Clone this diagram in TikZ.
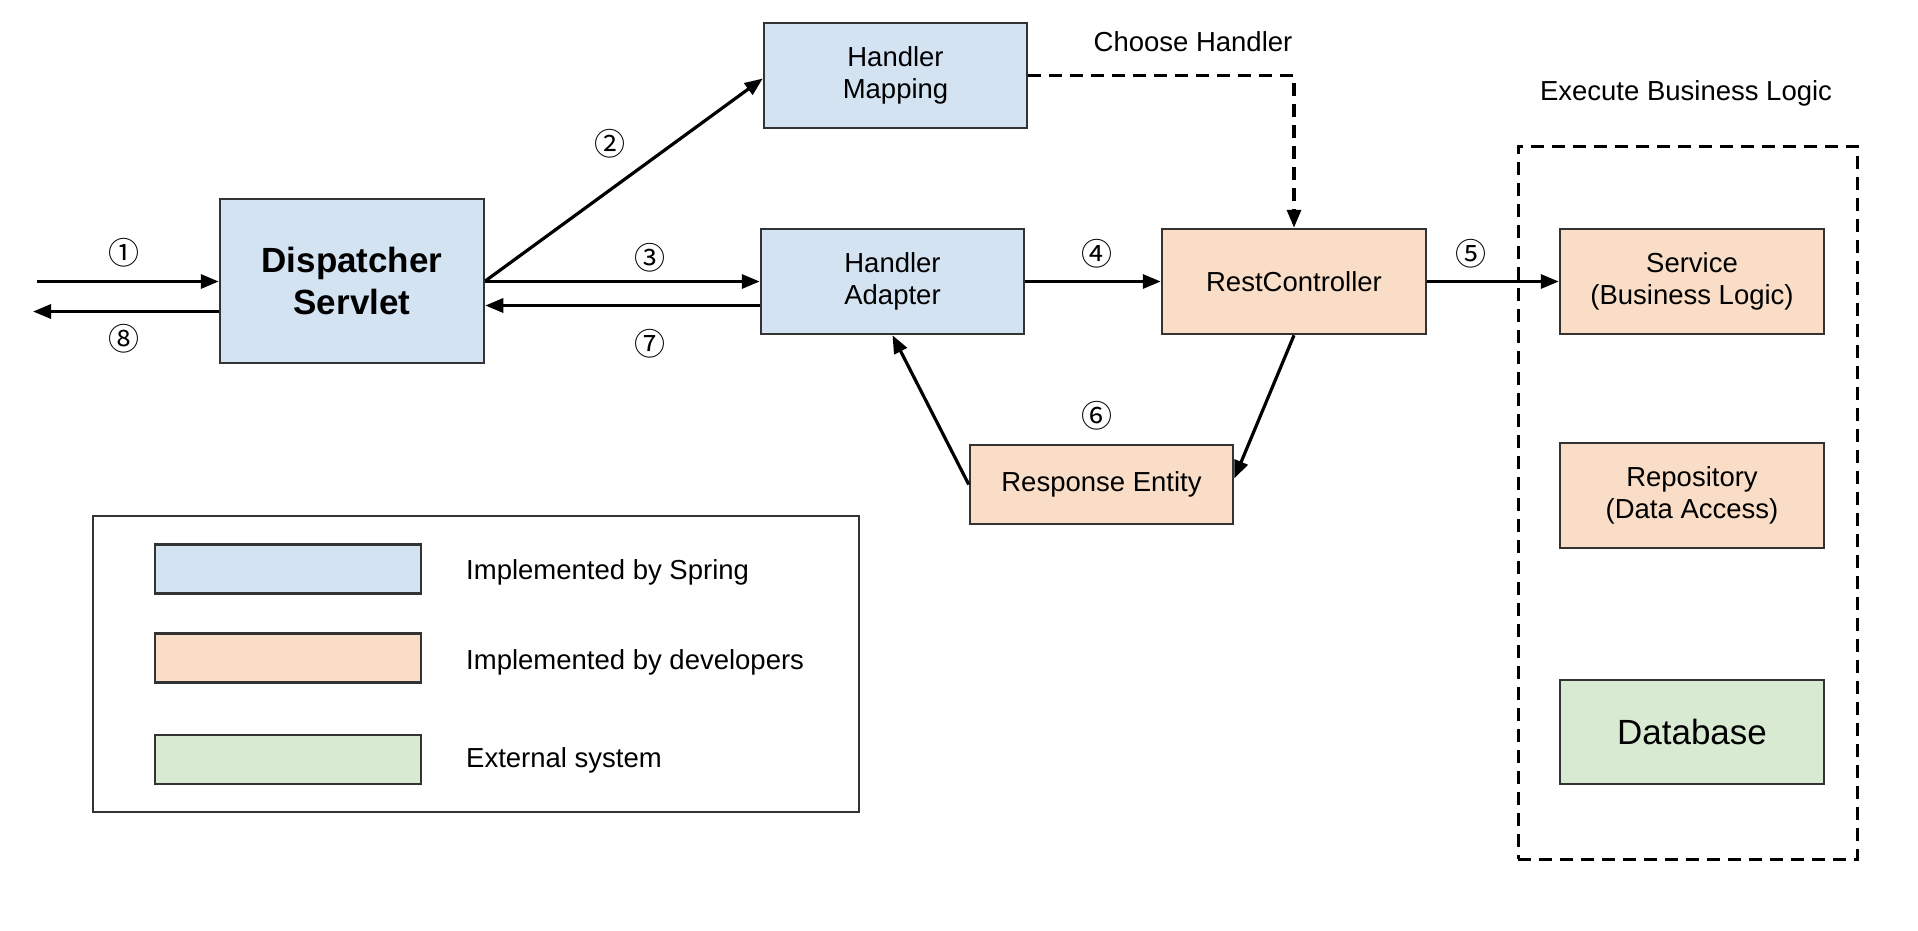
\documentclass[tikz,border=0pt]{standalone}
\usepackage{fontspec}
\setmainfont{Liberation Sans}
\newfontfamily\circfont{Noto Sans CJK JP}
\usetikzlibrary{arrows.meta,calc}

\definecolor{springblue}{HTML}{D4E3F2}
\definecolor{devorange}{HTML}{F9DDC7}
\definecolor{extgreen}{HTML}{D9EAD3}
\definecolor{bordergray}{HTML}{333333}

\begin{document}
\begin{tikzpicture}[x=1pt,y=-1pt,
  box/.style={draw=bordergray, line width=2.5pt, minimum width=263pt, minimum height=105pt, inner sep=0pt, align=center, font=\fontsize{27.5}{32}\selectfont},
  spring/.style={box, fill=springblue},
  dev/.style={box, fill=devorange},
  ext/.style={box, fill=extgreen},
  swatch/.style={draw=bordergray, line width=2.5pt, minimum width=266pt, minimum height=49pt, inner sep=0pt},
  arr/.style={line width=3.2pt, -{Triangle[length=18pt,width=14pt]}},
  dasharr/.style={arr, dash pattern=on 13pt off 8pt},
  num/.style={font=\circfont\fontsize{31}{31}\selectfont, inner sep=0pt},
  lbl/.style={font=\fontsize{27.5}{32}\selectfont, inner sep=0pt},
]
\path[use as bounding box, fill=white] (0,0) rectangle (1918,930);

% main boxes
\node[spring, minimum width=264pt, minimum height=164pt, font=\bfseries\fontsize{35}{42}\selectfont] (ds) at (352,281) {Dispatcher\\Servlet};
\node[spring] (hm) at (895.5,75.5) {Handler\\Mapping};
\node[spring] (ha) at (892.5,281.5) {Handler\\Adapter};
\node[dev, minimum width=264pt] (rc) at (1294,281.5) {RestController};
\node[dev, minimum height=79pt] (re) at (1101.5,484.5) {Response Entity};

% business logic container
\node[draw=black, line width=3pt, dash pattern=on 13pt off 8pt, minimum width=339pt, minimum height=713pt, inner sep=0pt] (cont) at (1687.5,502.5) {};
\node[lbl] (exlbl) at (1686,93) {Execute Business Logic};
\node[dev, minimum width=264pt] (svc) at (1692,281.5) {Service\\(Business Logic)};
\node[dev, minimum width=264pt] (repo) at (1692,495.5) {Repository\\(Data Access)};
\node[ext, minimum width=264pt, minimum height=104pt, font=\fontsize{35}{42}\selectfont] (db) at (1692,732) {Database};

% legend
\node[draw=bordergray, line width=2.5pt, minimum width=766pt, minimum height=296pt, inner sep=0pt] (legend) at (476,664) {};
\node[swatch, fill=springblue] (sw1) at (288,569) {};
\node[swatch, fill=devorange] (sw2) at (288,658) {};
\node[swatch, fill=extgreen] (sw3) at (288,759.5) {};
\node[lbl, anchor=west] (lt1) at (466,572) {Implemented by Spring};
\node[lbl, anchor=west] (lt2) at (466,662) {Implemented by developers};
\node[lbl, anchor=west] (lt3) at (466,760) {External system};

% free ends
\coordinate (inStart) at (37,281.5);
\coordinate (outEnd) at (33,311.5);

% connectors
\draw[arr] (inStart) -- ([yshift=-0.5pt]ds.west);
\draw[arr] ([yshift=-30.5pt]ds.west) -- (outEnd);
\draw[arr] (ds.east) -- ([yshift=-3pt]hm.west);
\draw[arr] ([yshift=-0.5pt]ds.east) -- (ha.west);
\draw[arr] ([yshift=-24pt]ha.west) -- ([yshift=-24.5pt]ds.east);
\draw[arr] (ha.east) -- (rc.west);
\draw[arr] (rc.east) -- (svc.west);
\draw[dasharr] (hm.east) -- (rc.north |- hm.east) -- (rc.north);
\draw[arr] (rc.south) -- ([yshift=6pt]re.east);
\draw[arr] (re.west) -- (ha.south);

% labels
\node[lbl] (chlbl) at (1193,42) {Choose Handler};
\node[num] (n1) at (124,253) {①};
\node[num] (n8) at (124,339) {⑧};
\node[num] (n2) at (610,144) {②};
\node[num] (n3) at (650,258) {③};
\node[num] (n7) at (650,344) {⑦};
\node[num] (n4) at (1097,254) {④};
\node[num] (n5) at (1471,254) {⑤};
\node[num] (n6) at (1097,416) {⑥};
\end{tikzpicture}
\end{document}
